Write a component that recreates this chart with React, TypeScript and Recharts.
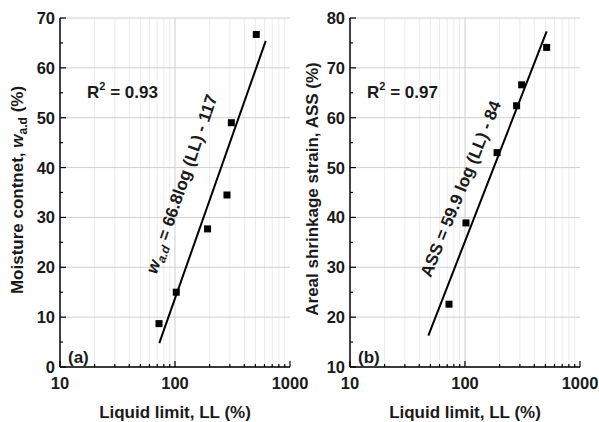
import React from 'react';
import { ScatterChart, Scatter, XAxis, YAxis, ReferenceLine } from 'recharts';

const FONT = '"Liberation Sans", Arial, sans-serif';

// panel (a): moisture content vs liquid limit
const llA = [72.6, 102.6, 192, 283, 309, 509];
const moistureA = [8.7, 15.0, 27.7, 34.5, 49.0, 66.7];
const fitLlA = [73, 615];
const fitWA = [4.8, 65.4];

// panel (b): areal shrinkage strain vs liquid limit
const llB = [72.6, 102, 190, 281, 311, 513];
const assB = [22.6, 38.9, 53.0, 62.4, 66.6, 74.1];
const fitLlB = [48, 513];
const fitAssB = [16.3, 77.3];

const xMajor = [10, 100, 1000];
const xMinor = [20, 30, 40, 50, 60, 70, 80, 90, 200, 300, 400, 500, 600, 700, 800, 900];
const yMajorA = [0, 10, 20, 30, 40, 50, 60, 70];
const yMinorA = [5, 15, 25, 35, 45, 55, 65];
const yMajorB = [10, 20, 30, 40, 50, 60, 70, 80];
const yMinorB = [15, 25, 35, 45, 55, 65, 75];

const toPoints = (xs: number[], ys: number[]) => xs.map((x, i) => ({ ll: x, v: ys[i] }));

const Square = (p: any) => <rect x={p.cx - 3.5} y={p.cy - 3.5} width={7} height={7} fill="#000" />;

const xTick = (dir: number, label: boolean) => (p: any) => {
  const v = p.payload.value;
  const major = xMajor.includes(v);
  return (
    <g>
      <line x1={p.x} x2={p.x} y1={p.y} y2={p.y + dir * (major ? 6 : 3)} stroke="#000" strokeWidth={1.2} />
      {label && major && (
        <text x={p.x} y={p.y + 22} textAnchor="middle" fontSize={16.5} fontWeight="bold" fontFamily={FONT} fill="#1a1a1a">
          {v}
        </text>
      )}
    </g>
  );
};

const yTick = (dir: number, label: boolean, majors: number[]) => (p: any) => {
  const v = p.payload.value;
  const major = majors.includes(v);
  return (
    <g>
      <line x1={p.x} x2={p.x + dir * (major ? 6 : 3)} y1={p.y} y2={p.y} stroke="#000" strokeWidth={1.2} />
      {label && major && (
        <text x={p.x - 5} y={p.y + 6} textAnchor="end" fontSize={16.5} fontWeight="bold" fontFamily={FONT} fill="#1a1a1a">
          {v}
        </text>
      )}
    </g>
  );
};

type PanelProps = {
  pts: { ll: number; v: number }[];
  fit: { ll: number; v: number }[];
  yDomain: [number, number];
  yMajor: number[];
  yMinor: number[];
  width: number;
  marginRight: number;
};

const Panel = ({ pts, fit, yDomain, yMajor, yMinor, width, marginRight }: PanelProps) => {
  const axisLine = { stroke: '#000', strokeWidth: 1.5 };
  return (
    <ScatterChart width={width} height={422} margin={{ top: 18, right: marginRight, left: 0, bottom: 0 }}>
      {xMinor.map((v) => (
        <ReferenceLine key={'gx' + v} x={v} stroke="#ececec" strokeWidth={1} />
      ))}
      {yMajor.map((v) => (
        <ReferenceLine key={'gy' + v} y={v} stroke="#cfcfcf" strokeWidth={1} />
      ))}
      <ReferenceLine x={100} stroke="#cfcfcf" strokeWidth={1} />
      <XAxis
        dataKey="ll"
        type="number"
        scale="log"
        domain={[10, 1000]}
        allowDataOverflow
        ticks={[...xMajor, ...xMinor]}
        interval={0}
        tickSize={0}
        tickMargin={0}
        tickLine={false}
        axisLine={axisLine}
        height={55}
        tick={xTick(-1, true)}
      />
      <XAxis
        xAxisId="top"
        orientation="top"
        type="number"
        scale="log"
        domain={[10, 1000]}
        allowDataOverflow
        ticks={[...xMajor, ...xMinor]}
        interval={0}
        tickSize={0}
        tickMargin={0}
        tickLine={false}
        axisLine={axisLine}
        height={0}
        tick={xTick(1, false)}
      />
      <YAxis
        dataKey="v"
        type="number"
        domain={yDomain}
        allowDataOverflow
        ticks={[...yMajor, ...yMinor]}
        interval={0}
        tickSize={0}
        tickMargin={0}
        tickLine={false}
        axisLine={axisLine}
        width={60}
        tick={yTick(1, true, yMajor)}
      />
      <YAxis
        yAxisId="right"
        orientation="right"
        type="number"
        domain={yDomain}
        allowDataOverflow
        ticks={[...yMajor, ...yMinor]}
        interval={0}
        tickSize={0}
        tickMargin={0}
        tickLine={false}
        axisLine={axisLine}
        width={0}
        tick={yTick(-1, false, yMajor)}
      />
      <Scatter data={fit} line={{ stroke: '#000', strokeWidth: 2 }} shape={() => <g />} isAnimationActive={false} legendType="none" />
      <Scatter data={pts} shape={<Square />} isAnimationActive={false} legendType="none" />
    </ScatterChart>
  );
};

const txt = { fontFamily: FONT, fontWeight: 'bold' as const, fill: '#1a1a1a' };

export default function App() {
  return (
    <div style={{ position: 'absolute', left: 0, top: 0, width: 599, height: 422, background: '#fff' }}>
      <div style={{ position: 'absolute', left: 0, top: 0 }}>
        <Panel
          pts={toPoints(llA, moistureA)}
          fit={toPoints(fitLlA, fitWA)}
          yDomain={[0, 70]}
          yMajor={yMajorA}
          yMinor={yMinorA}
          width={320}
          marginRight={30}
        />
      </div>
      <div style={{ position: 'absolute', left: 290, top: 0 }}>
        <Panel
          pts={toPoints(llB, assB)}
          fit={toPoints(fitLlB, fitAssB)}
          yDomain={[10, 80]}
          yMajor={yMajorB}
          yMinor={yMinorB}
          width={309}
          marginRight={19}
        />
      </div>
      <svg width={599} height={422} style={{ position: 'absolute', left: 0, top: 0, pointerEvents: 'none' }}>
        {/* axis titles */}
        <text x={175} y={418} textAnchor="middle" fontSize={17} {...txt}>Liquid limit, LL (%)</text>
        <text x={465} y={418} textAnchor="middle" fontSize={17} {...txt}>Liquid limit, LL (%)</text>
        <text transform="translate(23,190) rotate(-90)" textAnchor="middle" fontSize={17} {...txt}>
          Moisture contnet, <tspan fontStyle="italic">w</tspan>
          <tspan fontSize={12} dy={4}>a.d</tspan>
          <tspan dy={-4}> (%)</tspan>
        </text>
        <text transform="translate(318,189) rotate(-90)" textAnchor="middle" fontSize={17} {...txt}>
          Areal shrinkage strain, ASS (%)
        </text>
        {/* panel tags and fit statistics */}
        <text x={68} y={363} fontSize={17} {...txt}>(a)</text>
        <text x={358} y={363} fontSize={17} {...txt}>(b)</text>
        <text x={87} y={98} fontSize={17} {...txt}>
          R<tspan fontSize={11} dy={-8}>2</tspan>
          <tspan dy={8}> = 0.93</tspan>
        </text>
        <text x={367} y={98} fontSize={17} {...txt}>
          R<tspan fontSize={11} dy={-8}>2</tspan>
          <tspan dy={8}> = 0.97</tspan>
        </text>
        <text transform="translate(187,186) rotate(-71)" textAnchor="middle" fontSize={17} {...txt}>
          <tspan fontStyle="italic">w</tspan>
          <tspan fontSize={12} dy={4} fontStyle="italic">a.d</tspan>
          <tspan dy={-4}> = 66.8log (LL) - 117</tspan>
        </text>
        <text transform="translate(466,191) rotate(-68)" textAnchor="middle" fontSize={17} {...txt}>
          ASS = 59.9 log (LL) - 84
        </text>
      </svg>
    </div>
  );
}
